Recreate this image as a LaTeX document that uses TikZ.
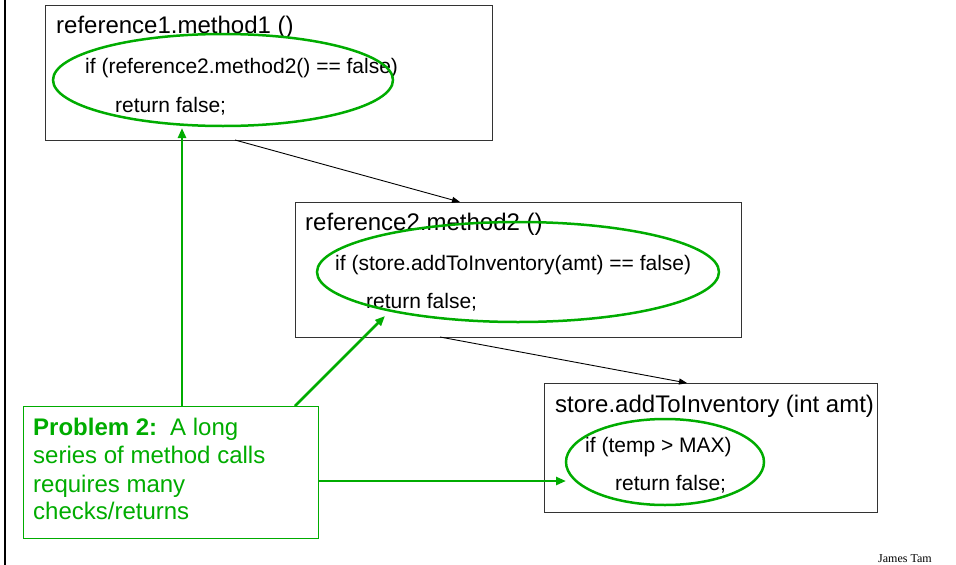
\documentclass[tikz,border=0pt]{standalone}
\usepackage{fontspec}
\setmainfont{Liberation Sans}
\newfontfamily\sigfont{Liberation Serif}
\usetikzlibrary{shapes.geometric,arrows.meta}
\definecolor{pgreen}{RGB}{0,172,0}
\begin{document}
\begin{tikzpicture}[x=1pt,y=-1pt,
  box/.style={draw=black!80, line width=1.2pt, rectangle, anchor=north west, inner sep=0},
  gbox/.style={draw=pgreen, line width=1.2pt, rectangle, anchor=north west, inner sep=0},
  ttl/.style={anchor=base west, inner sep=0, font=\fontsize{24}{28}\selectfont},
  code/.style={anchor=base west, inner sep=0, font=\fontsize{21}{25}\selectfont},
  gtxt/.style={anchor=base west, inner sep=0, text=pgreen, font=\fontsize{24}{28}\selectfont},
  ring/.style={draw=pgreen, line width=2.5pt, ellipse, inner sep=0},
  call/.style={-{Triangle[length=8pt,width=6pt]}, line width=0.9pt},
  gline/.style={draw=pgreen, line width=2.5pt, -{Triangle[length=10pt,width=8pt]}}]
\useasboundingbox (0,0) rectangle (956,565);
\draw[line width=2pt] (5,0) -- (5,565);

% boxes
\node[box, minimum width=447pt, minimum height=135pt] (b1) at (45,5) {};
\node[box, minimum width=446pt, minimum height=135pt] (b2) at (295,202) {};
\node[box, minimum width=333pt, minimum height=129pt] (b3) at (544,383) {};
\node[gbox, minimum width=295pt, minimum height=132pt] (g) at (23,406) {};

% texts
\node[ttl] (t1) at (56,33) {reference1.method1 ()};
\node[code] (t1a) at (85,73) {if (reference2.method2() == false)};
\node[code] (t1b) at (115,112) {return false;};
\node[ttl] (t2) at (305,230) {reference2.method2 ()};
\node[code] (t2a) at (335,270) {if (store.addToInventory(amt) == false)};
\node[code] (t2b) at (366,308) {return false;};
\node[ttl] (t3) at (555,412) {store.addToInventory (int amt)};
\node[code] (t3a) at (585,452) {if (temp > MAX)};
\node[code] (t3b) at (615,490) {return false;};

\node[gtxt] (p1) at (33,435) {\textbf{Problem 2:}\hspace{13pt}A long};
\node[gtxt] (p2) at (33,463) {series of method calls};
\node[gtxt] (p3) at (33,492) {requires many};
\node[gtxt] (p4) at (33,519) {checks/returns};

\node[anchor=base west, inner sep=0, font=\sigfont\fontsize{12}{14}\selectfont] (sig) at (878,562) {James Tam};

% ellipses
\node[ring, minimum width=340pt, minimum height=92pt] (e1) at (223,80) {};
\node[ring, minimum width=402pt, minimum height=100pt] (e2) at (518,272) {};
\node[ring, minimum width=198pt, minimum height=86pt] (e3) at (665,462) {};

% connector end points
\coordinate (a1s) at (235,140);
\coordinate (a1e) at (460,202);
\coordinate (a2s) at (440,337);
\coordinate (a2e) at (687,383);
\coordinate (g1s) at (182,406);
\coordinate (g1e) at (182,128);
\coordinate (g2s) at (295,406);
\coordinate (g2e) at (385,316);
\coordinate (g3s) at (318,481);
\coordinate (g3e) at (566,481);

\draw[call] (a1s) -- (a1e);
\draw[call] (a2s) -- (a2e);
\draw[gline] (g1s) -- (g1e);
\draw[gline] (g2s) -- (g2e);
\draw[gline] (g3s) -- (g3e);
\end{tikzpicture}
\end{document}
